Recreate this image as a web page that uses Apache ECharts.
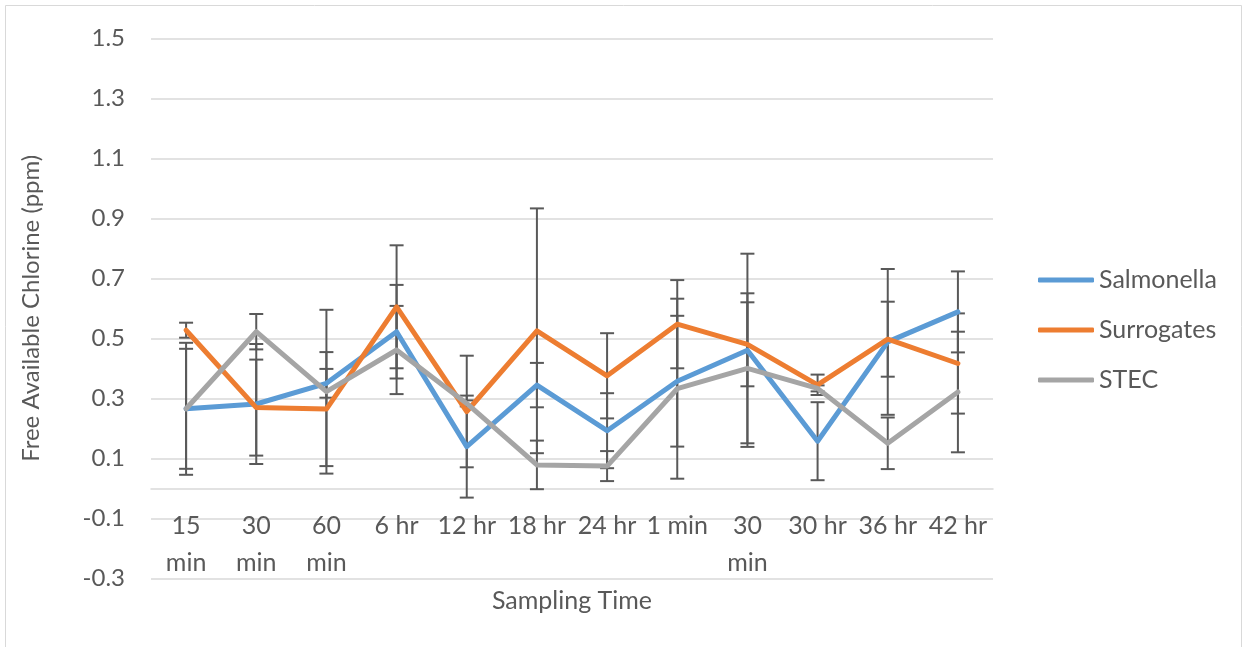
<!DOCTYPE html>
<html>
<head>
<meta charset="utf-8">
<title>Free Available Chlorine by Sampling Time</title>
<script src="https://cdn.jsdelivr.net/npm/echarts@6/dist/echarts.min.js"></script>
<style>
  html, body { margin: 0; padding: 0; background: #ffffff; }
  #chart { width: 1243px; height: 647px; }
</style>
</head>
<body>
<div id="chart"></div>
<script>
// Sampling times (category axis), with the wrapped tick text used on the axis
const categories = ['15 min', '30 min', '60 min', '6 hr', '12 hr', '18 hr', '24 hr', '1 min', '30 min', '30 hr', '36 hr', '42 hr'];
const tickLabels = ['15\nmin', '30\nmin', '60\nmin', '6 hr', '12 hr', '18 hr', '24 hr', '1 min', '30\nmin', '30 hr', '36 hr', '42 hr'];

// Labelled y ticks (ppm)
const yTicks = [-0.3, -0.1, 0.1, 0.3, 0.5, 0.7, 0.9, 1.1, 1.3, 1.5];

// Mean free available chlorine (ppm) and ± error per sampling time
const salmonella    = [0.265, 0.281, 0.350, 0.522, 0.139, 0.344, 0.192, 0.357, 0.460, 0.157, 0.488, 0.588];
const salmonellaErr = [0.220, 0.200, 0.048, 0.156, 0.170, 0.074, 0.125, 0.218, 0.322, 0.130, 0.243, 0.135];

const surrogates    = [0.527, 0.269, 0.264, 0.605, 0.256, 0.525, 0.375, 0.547, 0.480, 0.345, 0.497, 0.416];
const surrogatesErr = [0.025, 0.160, 0.190, 0.205, 0.186, 0.408, 0.142, 0.147, 0.140, 0.034, 0.125, 0.167];

const stec    = [0.265, 0.522, 0.322, 0.461, 0.283, 0.078, 0.074, 0.332, 0.400, 0.333, 0.150, 0.321];
const stecErr = [0.200, 0.059, 0.273, 0.147, 0.010, 0.081, 0.050, 0.300, 0.250, 0.010, 0.086, 0.201];

const FONT = 'Lato, "Noto Sans", sans-serif';
const TEXT = '#595959';
const GRID_COLOR = '#d9d9d9';
const COLORS = { Salmonella: '#5B9BD5', Surrogates: '#ED7D31', STEC: '#A5A5A5' };

// Plot area bounds; the category labels hang just under the zero line,
// so their offset is measured up from the bottom edge of the plot.
const GRID = { left: 151, right: 250, top: 38.3, bottom: 68.7 };
const ZERO_TO_BOTTOM = 89.3;   // distance from the 0 ppm line to the plot's bottom edge
const LABEL_GAP = 18;

function errorData(means, errs) {
  return means.map((m, i) => [i, m - errs[i], m + errs[i]]);
}

function renderErrorBar(params, api) {
  const x = api.value(0);
  const lo = api.coord([x, api.value(1)]);
  const hi = api.coord([x, api.value(2)]);
  const half = 7;
  const style = { stroke: '#595959', lineWidth: 2, fill: null };
  return {
    type: 'group',
    children: [
      { type: 'line', shape: { x1: hi[0], y1: hi[1], x2: lo[0], y2: lo[1] }, style: style },
      { type: 'line', shape: { x1: hi[0] - half, y1: hi[1], x2: hi[0] + half, y2: hi[1] }, style: style },
      { type: 'line', shape: { x1: lo[0] - half, y1: lo[1], x2: lo[0] + half, y2: lo[1] }, style: style }
    ]
  };
}

function lineSeries(name, data) {
  const color = COLORS[name];
  return {
    name: name,
    type: 'line',
    data: data,
    symbol: 'none',
    smooth: false,
    z: 3,
    color: color,
    lineStyle: { color: color, width: 5, cap: 'round', join: 'round' },
    itemStyle: { color: color }
  };
}

function errSeries(name, means, errs) {
  return {
    name: name,
    type: 'custom',
    renderItem: renderErrorBar,
    data: errorData(means, errs),
    encode: { x: 0, y: [1, 2] },
    color: COLORS[name],
    itemStyle: { color: COLORS[name] },
    z: 2,
    silent: true
  };
}

const chart = echarts.init(document.getElementById('chart'), null, { renderer: 'canvas' });

chart.setOption({
  backgroundColor: '#ffffff',
  animation: false,
  textStyle: { fontFamily: FONT },
  graphic: [{
    type: 'rect',
    silent: true,
    z: -10,
    shape: { x: 5.5, y: 5.5, width: 1236, height: 660 },
    style: { fill: null, stroke: GRID_COLOR, lineWidth: 1 }
  }],
  grid: Object.assign({ containLabel: false, outerBoundsMode: 'none' }, GRID),
  legend: {
    orient: 'vertical',
    left: 1033,
    top: 260,
    itemWidth: 56,
    itemHeight: 5,
    itemGap: 20,
    icon: 'roundRect',
    data: ['Salmonella', 'Surrogates', 'STEC'],
    textStyle: { color: TEXT, fontSize: 25, fontFamily: FONT, lineHeight: 30 }
  },
  xAxis: {
    type: 'category',
    data: tickLabels,
    boundaryGap: true,
    name: 'Sampling Time',
    nameLocation: 'middle',
    nameGap: 10,
    nameTextStyle: { color: TEXT, fontSize: 25, fontFamily: FONT },
    axisLine: { onZero: true, lineStyle: { color: GRID_COLOR, width: 1.5 } },
    axisTick: { show: false },
    axisLabel: {
      interval: 0,
      color: TEXT,
      fontSize: 25,
      fontFamily: FONT,
      lineHeight: 37,
      margin: LABEL_GAP - ZERO_TO_BOTTOM
    },
    splitLine: { show: false }
  },
  yAxis: {
    type: 'value',
    min: -0.3,
    max: 1.5,
    interval: 0.1,
    name: 'Free Available Chlorine (ppm)',
    nameLocation: 'middle',
    nameGap: 108,
    nameRotate: 90,
    nameTextStyle: { color: TEXT, fontSize: 24, fontFamily: FONT },
    axisLine: { show: false },
    axisTick: { show: false },
    axisLabel: {
      color: TEXT,
      fontSize: 24,
      fontFamily: FONT,
      margin: 26,
      formatter: function (v) {
        const r = Math.round(v * 10) / 10;
        return yTicks.some(t => Math.abs(t - r) < 1e-9) ? r.toFixed(1) : '';
      }
    },
    splitLine: {
      show: true,
      lineStyle: { color: [GRID_COLOR, 'rgba(0,0,0,0)'], width: 1.5 }
    }
  },
  series: [
    lineSeries('Salmonella', salmonella),
    lineSeries('Surrogates', surrogates),
    lineSeries('STEC', stec),
    errSeries('Salmonella', salmonella, salmonellaErr),
    errSeries('Surrogates', surrogates, surrogatesErr),
    errSeries('STEC', stec, stecErr)
  ]
});
</script>
</body>
</html>
